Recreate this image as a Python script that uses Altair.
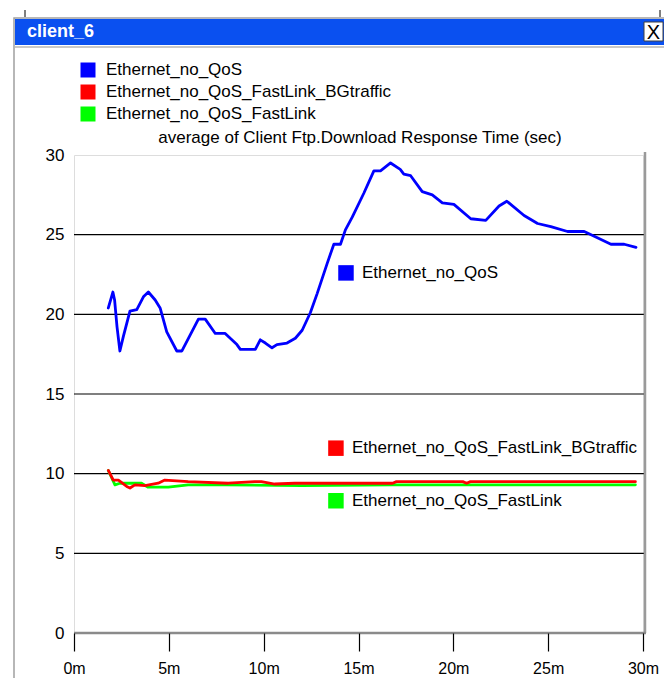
import altair as alt
import pandas as pd

# ---------------- data ----------------
series_names = ["Ethernet_no_QoS", "Ethernet_no_QoS_FastLink_BGtraffic", "Ethernet_no_QoS_FastLink"]
series_colors = ["#0000ff", "#ff0000", "#00ff00"]

blue_t = [1.81, 2.05, 2.14, 2.27, 2.42, 2.60, 2.95, 3.31, 3.66, 3.92, 4.28, 4.54, 4.89, 5.42, 5.69,
          6.56, 6.92, 7.45, 7.97, 8.59, 8.77, 9.56, 9.82, 10.09, 10.44, 10.70, 11.23, 11.67, 12.03,
          12.46, 12.82, 13.35, 13.70, 14.05, 14.31, 14.67, 15.28, 15.81, 16.16, 16.69, 17.20, 17.39,
          17.75, 18.36, 18.89, 19.42, 20.03, 20.92, 21.71, 22.41, 22.82, 23.73, 24.44, 25.14, 26.02,
          26.90, 27.43, 28.31, 29.01, 29.63]
blue_v = [20.4, 21.4, 20.9, 19.2, 17.7, 18.6, 20.2, 20.3, 21.1, 21.4, 20.9, 20.4, 18.9, 17.7, 17.7,
          19.7, 19.7, 18.8, 18.8, 18.1, 17.8, 17.8, 18.4, 18.2, 17.9, 18.1, 18.2, 18.5, 19.0,
          20.1, 21.3, 23.2, 24.4, 24.4, 25.3, 26.1, 27.6, 29.0, 29.0, 29.5, 29.1, 28.8,
          28.7, 27.7, 27.5, 27.0, 26.9, 26.0, 25.9, 26.8, 27.1, 26.2, 25.7, 25.5, 25.2,
          25.2, 24.9, 24.4, 24.4, 24.2]

red_t = [1.81, 2.07, 2.34, 2.78, 2.95, 3.21, 3.74, 4.44, 4.79, 6.02, 8.13, 9.53, 9.88, 10.58,
         11.64, 16.8, 17.0, 20.5, 20.7, 20.9, 29.6]
red_v = [10.2, 9.6, 9.6, 9.2, 9.1, 9.3, 9.25, 9.4, 9.6, 9.5, 9.4, 9.5, 9.5, 9.35,
         9.4, 9.4, 9.5, 9.5, 9.4, 9.5, 9.5]

green_t = [1.81, 2.16, 2.42, 3.56, 3.91, 4.97, 6.02, 8.0, 12.0, 16.8, 29.6]
green_v = [10.2, 9.3, 9.4, 9.4, 9.15, 9.15, 9.3, 9.3, 9.25, 9.3, 9.3]

y_ticks = [0, 5, 10, 15, 20, 25, 30]
x_ticks = [0, 5, 10, 15, 20, 25, 30]
grid_values = [5, 10, 15, 20, 25]

title_text = "average of Client Ftp.Download Response Time (sec)"
window_title = "client_6"

# inline label anchors (data units)
label_t = [14.34, 13.81, 13.81]
label_v = [22.6, 11.6, 8.3]

# ---------------- build tables ----------------
rows = []
for name, ts, vs in zip(series_names, [blue_t, red_t, green_t], [blue_v, red_v, green_v]):
    for t, v in zip(ts, vs):
        rows.append({"series": name, "t": t, "v": v})
df = pd.DataFrame(rows)
lab_df = pd.DataFrame({"series": series_names, "t": label_t, "v": label_v})
grid_df = pd.DataFrame({"g": grid_values})
one = pd.DataFrame({"a": [0]})

W, H = 569, 478
FONT = "Liberation Sans, Arial, sans-serif"
FS = 17
xs = alt.Scale(domain=[0, 30], nice=False, zero=False)
ys = alt.Scale(domain=[0, 30], nice=False, zero=False)
cscale = alt.Scale(domain=series_names, range=series_colors)

x_axis = alt.Axis(values=x_ticks, labelExpr="datum.value + 'm'", tickSize=18,
                  tickColor="black", tickWidth=1.2, domain=False, grid=False,
                  labelFont=FONT, labelFontSize=16, labelColor="black",
                  labelPadding=9, title=None, labelFlush=False, labelOverlap=False, zindex=1)
y_axis = alt.Axis(values=y_ticks, tickSize=0, domain=False, grid=False,
                  labelFont=FONT, labelFontSize=17, labelColor="black",
                  labelPadding=10, title=None, labelFlush=False, labelOverlap=False, zindex=1)

layers = []

# window frame and title bar
layers.append(alt.Chart(one).mark_rect(filled=False, stroke="#a0a0a0", strokeWidth=1.5).encode(
    x=alt.value(-60), x2=alt.value(640), y=alt.value(-137), y2=alt.value(534)))
layers.append(alt.Chart(one).mark_rect(fill="#0a50f0").encode(
    x=alt.value(-59), x2=alt.value(600), y=alt.value(-136), y2=alt.value(-110)))
layers.append(alt.Chart(one).mark_rule(color="#c8c8c8", strokeWidth=2).encode(
    x=alt.value(-59), x2=alt.value(600), y=alt.value(-108)))
layers.append(alt.Chart(one).mark_text(align="left", baseline="middle", font="Liberation Sans",
                                       fontWeight="bold", fontSize=18, color="white").encode(
    x=alt.value(-47), y=alt.value(-123), text=alt.value(window_title)))
layers.append(alt.Chart(one).mark_rect(fill="white", stroke="#404040", strokeWidth=1).encode(
    x=alt.value(570), x2=alt.value(589), y=alt.value(-133), y2=alt.value(-114)))
layers.append(alt.Chart(one).mark_text(align="center", baseline="middle", font="Liberation Sans",
                                       fontSize=20, color="black").encode(
    x=alt.value(579.5), y=alt.value(-122.5), text=alt.value("X")))
# small marks of the window behind
layers.append(alt.Chart(one).mark_rule(color="black", strokeWidth=1).encode(
    x=alt.value(-49), y=alt.value(-145), y2=alt.value(-138)))
layers.append(alt.Chart(one).mark_rule(color="black", strokeWidth=1).encode(
    x=alt.value(586), y=alt.value(-145), y2=alt.value(-138)))

# top legend
for i, (name, col) in enumerate(zip(series_names, series_colors)):
    yy = -85 + 22 * i
    layers.append(alt.Chart(one).mark_square(size=225, filled=True, opacity=1, color=col).encode(
        x=alt.value(14), y=alt.value(yy)))
    layers.append(alt.Chart(one).mark_text(align="left", baseline="middle", font=FONT,
                                           fontSize=FS, color="black").encode(
        x=alt.value(32), y=alt.value(yy), text=alt.value(name)))

# chart title
layers.append(alt.Chart(one).mark_text(align="center", baseline="middle", font=FONT,
                                       fontSize=FS, color="black").encode(
    x=alt.value(286), y=alt.value(-17), text=alt.value(title_text)))

# grid lines
layers.append(alt.Chart(grid_df).mark_rule(color="black", strokeWidth=1.2).encode(
    y=alt.Y("g:Q", scale=ys, axis=y_axis), x=alt.value(0), x2=alt.value(571)))

# frame: right border and base axis
layers.append(alt.Chart(one).mark_rule(color="#9a9a9a", strokeWidth=2.5).encode(
    x=alt.value(571), y=alt.value(-3), y2=alt.value(H)))
layers.append(alt.Chart(one).mark_rule(color="#8a8a8a", strokeWidth=2.5).encode(
    x=alt.value(0), x2=alt.value(572), y=alt.value(H)))

# lines (green, red, blue order)
for name in [series_names[2], series_names[1], series_names[0]]:
    layers.append(alt.Chart(df).transform_filter(alt.datum.series == name).mark_line(
        strokeWidth=2.8, strokeJoin="round", strokeCap="round").encode(
        x=alt.X("t:Q", scale=xs, axis=x_axis),
        y=alt.Y("v:Q", scale=ys, axis=y_axis),
        color=alt.Color("series:N", scale=cscale, legend=None),
    ))

# inline labels
layers.append(alt.Chart(lab_df).mark_square(size=240, filled=True, opacity=1).encode(
    x=alt.X("t:Q", scale=xs, axis=x_axis), y=alt.Y("v:Q", scale=ys, axis=y_axis),
    color=alt.Color("series:N", scale=cscale, legend=None)))
layers.append(alt.Chart(lab_df).mark_text(align="left", baseline="middle", font=FONT,
                                          fontSize=FS, color="black", dx=16).encode(
    x=alt.X("t:Q", scale=xs, axis=x_axis), y=alt.Y("v:Q", scale=ys, axis=y_axis),
    text="series:N"))

chart = alt.layer(*layers).properties(
    width=W, height=H,
    autosize=alt.AutoSizeParams(type="none"),
    padding={"left": 66, "top": 147, "right": 21, "bottom": 45},
).configure_view(stroke=None).configure(background="white")

chart.save("out.html", embed_options={"renderer": "svg", "actions": False})
